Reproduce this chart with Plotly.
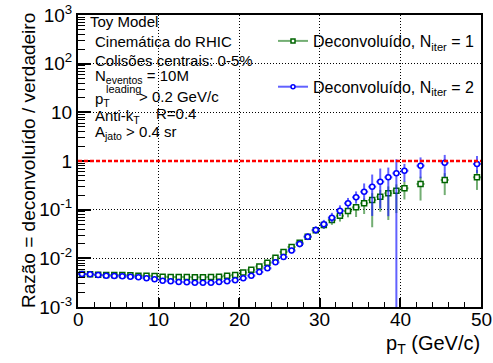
import plotly.graph_objects as go

# ---------------- data ----------------
pt = [0.5, 1.5, 2.5, 3.5, 4.5, 5.5, 6.5, 7.5, 8.5, 9.5,
      10.5, 11.5, 12.5, 13.5, 14.5, 15.5, 16.5, 17.5, 18.5, 19.5,
      20.5, 21.5, 22.5, 23.5, 24.5, 25.5, 26.5, 27.5, 28.5, 29.5,
      30.5, 31.5, 32.5, 33.5, 34.5, 35.5, 36.5, 37.5, 38.5, 39.5,
      40.5, 42.5, 45.5, 49.5]
pt_halfwidth = [0.5] * 44

ratio_iter1 = [0.00476, 0.00470, 0.00461, 0.00455, 0.00455, 0.00455, 0.00449, 0.00440, 0.00440, 0.00434,
               0.00420, 0.00414, 0.00414, 0.00414, 0.00408, 0.00408, 0.00414, 0.00420, 0.00440, 0.00457,
               0.00511, 0.00581, 0.00681, 0.00815, 0.01023, 0.01349, 0.0171, 0.0209, 0.02786, 0.03758,
               0.04842, 0.06138, 0.07499, 0.09397, 0.1119, 0.1352, 0.1581, 0.1849, 0.2173, 0.2455,
               0.2748, 0.3373, 0.4074, 0.4624]
err_up_iter1 = [0.0001, 0.0001, 0.0001, 0.0001, 0.0001, 0.0001, 0.0001, 0.0001, 0.0001, 0.0001,
                0.0001, 0.0001, 0.0001, 0.0001, 0.0001, 0.0001, 0.0001, 0.0001, 0.0001, 0.0001,
                0.00012, 0.00014, 0.00016, 0.00058, 0.00099, 0.0013, 0.00209, 0.00255, 0.00412, 0.00556,
                0.00716, 0.00908, 0.01313, 0.01645, 0.01958, 0.035, 0.0601, 0.0703, 0.0826, 0.0857,
                0.1044, 0.1393, 0.1548, 0.191]
err_dn_iter1 = [0.0001, 0.0001, 0.0001, 0.0001, 0.0001, 0.0001, 0.0001, 0.0001, 0.0001, 0.0001,
                0.0001, 0.0001, 0.0001, 0.0001, 0.0001, 0.0001, 0.0001, 0.0001, 0.0001, 0.0001,
                0.00012, 0.00013, 0.00015, 0.00055, 0.0009, 0.00119, 0.00186, 0.00228, 0.0036, 0.00485,
                0.00813, 0.01264, 0.01808, 0.02434, 0.0413, 0.0537, 0.1146, 0.0943, 0.156, 0.1603,
                0.1129, 0.1832, 0.2078, 0.208]

ratio_iter2 = [0.00476, 0.00470, 0.00455, 0.00440, 0.00434, 0.00427, 0.00420, 0.00408, 0.00389, 0.00372,
               0.00348, 0.00338, 0.00327, 0.00322, 0.00316, 0.00316, 0.00316, 0.00327, 0.00339, 0.00355,
               0.00389, 0.00440, 0.00524, 0.00624, 0.00828, 0.0106, 0.01445, 0.01972, 0.02786, 0.0382,
               0.0501, 0.0684, 0.0953, 0.1352, 0.1795, 0.2339, 0.2965, 0.3758, 0.4624, 0.5585,
               0.6324, 0.8017, 0.9226, 0.8670]
err_up_iter2 = [0.0001, 0.0001, 0.0001, 0.0001, 0.0001, 0.0001, 0.0001, 0.0001, 0.0001, 0.0001,
                0.0001, 0.0001, 0.0001, 0.0001, 0.0001, 0.0001, 0.0001, 0.0001, 0.0001, 0.0001,
                0.00012, 0.00021, 0.000375, 0.0006, 0.00101, 0.0013, 0.00214, 0.00345, 0.00488, 0.00772,
                0.01152, 0.0177, 0.0274, 0.0389, 0.0571, 0.112, 0.2307, 0.324, 0.2705, 0.5306,
                0.240, 0.384, 0.411, 0.401]
err_dn_iter2 = [0.0001, 0.0001, 0.0001, 0.0001, 0.0001, 0.0001, 0.0001, 0.0001, 0.0001, 0.0001,
                0.0001, 0.0001, 0.0001, 0.0001, 0.0001, 0.0001, 0.0001, 0.0001, 0.0001, 0.0001,
                0.00012, 0.0002, 0.00035, 0.00055, 0.0009, 0.00116, 0.00186, 0.00294, 0.00415, 0.00642,
                0.00937, 0.0141, 0.0213, 0.0303, 0.0465, 0.0758, 0.2221, 0.270, 0.389, 0.558494,
                0.260, 0.361, 0.449, 0.307]

x_ticks = [0, 10, 20, 30, 40, 50]
x_ticklabels = ["0", "10", "20", "30", "40", "50"]
y_ticks = [0.001, 0.01, 0.1, 1, 10, 100, 1000]
y_ticklabels = ["10<sup>-3</sup>", "10<sup>-2</sup>", "10<sup>-1</sup>", "1", "10",
                "10<sup>2</sup>", "10<sup>3</sup>"]

FONT = "Liberation Sans, Arial, Helvetica, sans-serif"
GREEN = "#006400"
GREEN_ERR = "rgba(40,130,40,0.65)"
BLUE = "#0000ff"
BLUE_ERR = "rgba(30,30,255,0.7)"

fig = go.Figure()

fig.add_trace(go.Scatter(
    x=pt, y=ratio_iter1, mode="markers", showlegend=False,
    marker=dict(symbol="square", size=5, color="white", line=dict(color=GREEN, width=1.5)),
    error_x=dict(type="data", array=pt_halfwidth, color=GREEN_ERR, thickness=2, width=0),
    error_y=dict(type="data", array=err_up_iter1, arrayminus=err_dn_iter1, symmetric=False,
                 color=GREEN_ERR, thickness=2, width=0),
))
fig.add_trace(go.Scatter(
    x=pt, y=ratio_iter2, mode="markers", showlegend=False,
    marker=dict(symbol="circle", size=5, color="white", line=dict(color=BLUE, width=1.5)),
    error_x=dict(type="data", array=pt_halfwidth, color=BLUE_ERR, thickness=2, width=0),
    error_y=dict(type="data", array=err_up_iter2, arrayminus=err_dn_iter2, symmetric=False,
                 color=BLUE_ERR, thickness=2, width=0),
))

# legend entries
fig.add_trace(go.Scatter(
    x=[None], y=[None], mode="lines+markers", legendgroup="a",
    name="Deconvoluído, N<sub>iter</sub> = 1",
    line=dict(color=GREEN_ERR, width=2),
    marker=dict(symbol="square", size=4, color="white", line=dict(color=GREEN, width=1.5)),
))
fig.add_trace(go.Scatter(
    x=[None], y=[None], mode="lines+markers", legendgroup="b",
    name="Deconvoluído, N<sub>iter</sub> = 2",
    line=dict(color=BLUE_ERR, width=2),
    marker=dict(symbol="circle", size=4, color="white", line=dict(color=BLUE, width=1.5)),
))

# reference line at ratio = 1
fig.add_shape(type="line", xref="paper", x0=0, x1=1, yref="y", y0=1, y1=1,
              line=dict(color="red", width=2.5, dash="4px,2px"), layer="above")

L, R, T, B = 78, 12, 15, 56
W, H = 493, 363
PW, PH = W - L - R, H - T - B


def px(x):
    return (x - L) / PW


def py(y):
    return (H - B - y) / PH


txt = []


def note(text, x, y, size=15, xanchor="left", yanchor="middle", angle=0):
    txt.append(dict(text=text, x=px(x), y=py(y), xref="paper", yref="paper",
                    xanchor=xanchor, yanchor=yanchor, showarrow=False, textangle=angle,
                    font=dict(family=FONT, size=size, color="black")))


note("Toy Model", 88, 22)
note("Cinemática do RHIC", 93, 41.5)
note("Colisões centrais: 0-5%", 93, 60.5)
note("N<sub>eventos</sub> = 10M", 93, 77)
note("p<sub>T</sub>", 93, 99)
note("leading", 104, 89.5, size=11)
note("> 0.2 GeV/c", 137, 96)
note("Anti-k<sub>T</sub>", 93, 116)
note("R=0.4", 154, 113)
note("A<sub>jato</sub> > 0.4 sr", 93, 132)
note("p<sub>T</sub> (GeV/c)", 384, 344, size=20, xanchor="left")
note("Razão = deconvoluído / verdadeiro", 28, 161, size=19, xanchor="center", angle=-90)

# x tick labels, placed on the x axis scale (closer to the axis than plotly's default)
for v, lab in zip(x_ticks, x_ticklabels):
    txt.append(dict(text=lab, x=v, xref="x", y=py(319.5), yref="paper",
                    xanchor="center", yanchor="middle", showarrow=False,
                    font=dict(family=FONT, size=19, color="black")))

fig.update_layout(
    width=W, height=H,
    margin=dict(l=L, r=R, t=T, b=B, pad=0, autoexpand=False),
    paper_bgcolor="white", plot_bgcolor="white",
    font=dict(family=FONT, size=19, color="black"),
    annotations=txt,
    showlegend=True,
    legend=dict(x=px(273), y=py(24), xanchor="left", yanchor="top",
                bgcolor="rgba(0,0,0,0)", borderwidth=0,
                font=dict(family=FONT, size=16, color="black"),
                traceorder="grouped", tracegroupgap=22),
)

fig.update_xaxes(
    range=[0, 50], tickvals=x_ticks, showticklabels=False,
    ticks="inside", ticklen=9, tickwidth=1.5, tickcolor="black",
    minor=dict(ticks="inside", ticklen=5, dtick=2, tickwidth=1.2, tickcolor="black", showgrid=False),
    showgrid=True, gridcolor="black", gridwidth=1, griddash="1px,2px",
    showline=True, linecolor="black", linewidth=2, mirror=True, zeroline=False,
    automargin=False,
)
fig.update_yaxes(
    type="log", range=[-3, 3], tickvals=y_ticks, ticktext=y_ticklabels,
    ticks="inside", ticklen=13, tickwidth=1.5, tickcolor="black",
    minor=dict(ticks="inside", ticklen=7, dtick="D1", tickwidth=1.2, tickcolor="black", showgrid=False),
    showgrid=True, gridcolor="black", gridwidth=1, griddash="1px,2px",
    showline=True, linecolor="black", linewidth=2, mirror=True, zeroline=False,
    tickfont=dict(family=FONT, size=19), ticklabeloverflow="allow", automargin=False,
)

fig.write_html("out.html")
